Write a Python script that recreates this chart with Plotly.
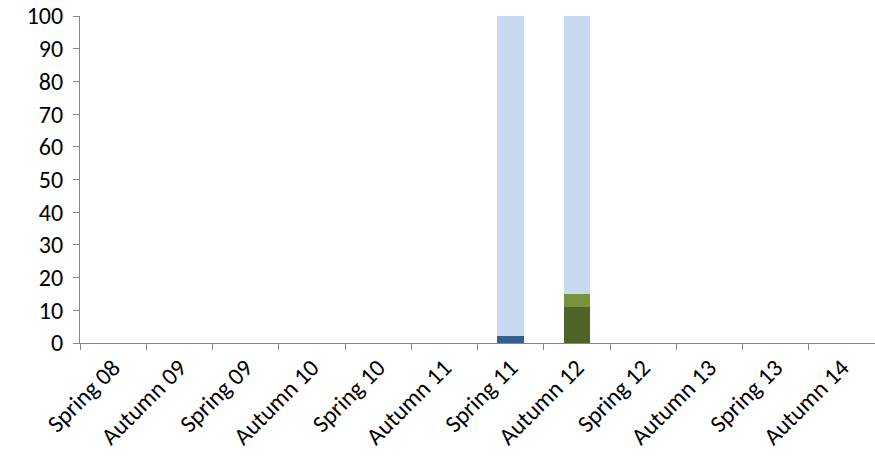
import plotly.graph_objects as go

categories = ["Spring 08", "Autumn 09", "Spring 09", "Autumn 10", "Spring 10", "Autumn 11",
              "Spring 11", "Autumn 12", "Spring 12", "Autumn 13", "Spring 13", "Autumn 14"]
series_a = [0, 0, 0, 0, 0, 0, 2, 0, 0, 0, 0, 0]      # dark blue
series_b = [0, 0, 0, 0, 0, 0, 0, 11, 0, 0, 0, 0]     # dark olive
series_c = [0, 0, 0, 0, 0, 0, 0, 4, 0, 0, 0, 0]      # olive green
series_d = [0, 0, 0, 0, 0, 0, 98, 85, 0, 0, 0, 0]    # light blue
y_ticks = [0, 10, 20, 30, 40, 50, 60, 70, 80, 90, 100]

colors = ["#366092", "#4F6228", "#77933C", "#C6D9F1"]
fig = go.Figure()
for vals, col in zip([series_a, series_b, series_c, series_d], colors):
    fig.add_trace(go.Bar(x=categories, y=vals, marker=dict(color=col, line=dict(width=0))))

font = dict(family="Carlito, Calibri, Lato, sans-serif", size=24, color="#000000")
fig.update_layout(
    width=875, height=462, barmode="stack", bargap=0.6, showlegend=False,
    plot_bgcolor="white", paper_bgcolor="white",
    margin=dict(l=80, r=0, t=16, b=119, pad=0),
    font=font,
    xaxis=dict(type="category", tickangle=-45, tickson="boundaries", ticks="outside",
               ticklen=6, tickcolor="#868686", showline=True, linecolor="#868686",
               linewidth=1, showgrid=False, tickfont=font, automargin=False,
               ticklabeloverflow="allow"),
    yaxis=dict(range=[0, 100], tickvals=y_ticks, ticks="outside", ticklen=6,
               tickcolor="#868686", showline=True, linecolor="#868686", linewidth=1,
               showgrid=False, zeroline=False, tickfont=font, automargin=False,
               ticklabeloverflow="allow", ticklabelstandoff=5),
)
fig.write_html(
    "out.html",
    config={"displayModeBar": False},
    post_script="document.body.style.margin='0';document.body.style.overflow='hidden';",
)
